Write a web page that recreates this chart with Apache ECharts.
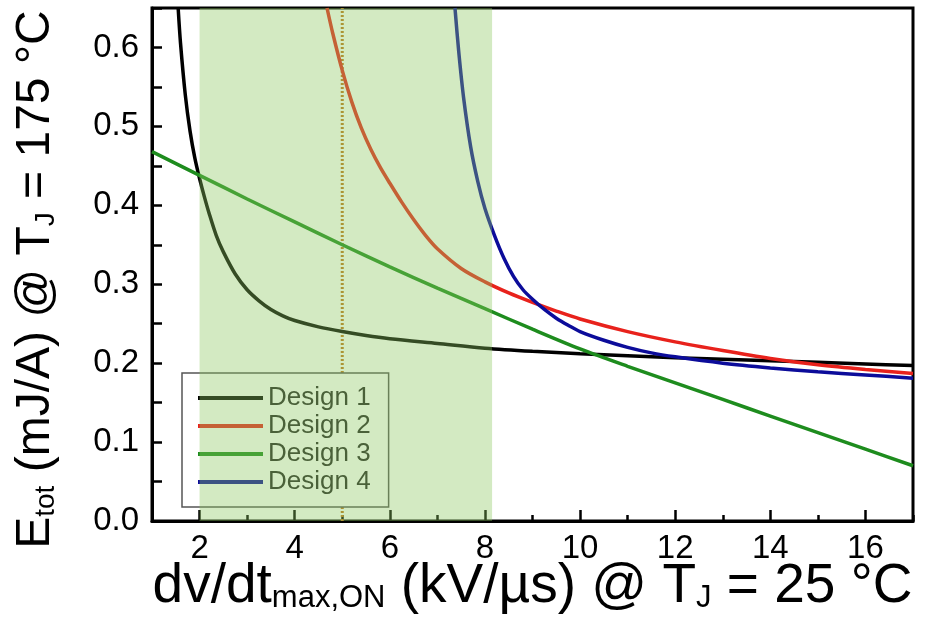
<!DOCTYPE html>
<html>
<head>
<meta charset="utf-8">
<script src="https://cdn.jsdelivr.net/npm/echarts@6/dist/echarts.min.js"></script>
<style>
html,body{margin:0;padding:0;background:#fff;}
#chart{width:925px;height:622px;}
</style>
</head>
<body>
<div id="chart"></div>
<script>
// ---- data ----
const seriesNames = ['Design 1', 'Design 2', 'Design 3', 'Design 4'];

const d1x = [1.55, 1.6, 1.7, 1.8, 1.9, 2.0, 2.1, 2.2, 2.35, 2.5, 2.75, 3.0, 3.25, 3.5, 3.75, 4.0, 4.5, 5, 5.5, 6, 7, 8, 9, 10, 12, 14, 16, 17];
const d1y = [0.65, 0.605, 0.54, 0.494, 0.46, 0.434, 0.411, 0.39, 0.362, 0.341, 0.313, 0.293, 0.279, 0.268, 0.26, 0.254, 0.246, 0.24, 0.235, 0.231, 0.225, 0.219, 0.215, 0.212, 0.207, 0.203, 0.199, 0.197];

const d2x = [4.68, 4.8, 5.0, 5.2, 5.4, 5.6, 5.8, 6.0, 6.25, 6.5, 6.75, 7.0, 7.5, 8.0, 8.5, 9, 9.5, 10, 11, 12, 13, 14, 15, 16, 17];
const d2y = [0.65, 0.618, 0.571, 0.531, 0.498, 0.471, 0.448, 0.428, 0.404, 0.382, 0.362, 0.345, 0.320, 0.303, 0.289, 0.277, 0.266, 0.256, 0.24, 0.227, 0.216, 0.206, 0.198, 0.192, 0.187];

const d3x = [1, 2, 3, 4, 5, 6, 7, 8, 9, 10, 11, 12, 13, 14, 15, 16, 17];
const d3y = [0.468, 0.438, 0.408, 0.379, 0.350, 0.322, 0.295, 0.269, 0.243, 0.218, 0.196, 0.175, 0.154, 0.133, 0.112, 0.091, 0.070];

const d4x = [7.37, 7.45, 7.55, 7.7, 7.85, 8.0, 8.2, 8.4, 8.6, 8.8, 9.0, 9.25, 9.5, 9.75, 10, 10.5, 11, 11.5, 12, 13, 14, 15, 16, 17];
const d4y = [0.65, 0.594, 0.537, 0.474, 0.43, 0.396, 0.362, 0.333, 0.31, 0.293, 0.281, 0.268, 0.257, 0.248, 0.24, 0.229, 0.22, 0.213, 0.208, 0.2, 0.194, 0.189, 0.185, 0.181];

const shadeRange = [2, 8.15];        // shaded dv/dt window
const shadeY = [0, 0.65];
const markerX = 5;                   // dotted vertical marker
const xMajorTicks = [2, 4, 6, 8, 10, 12, 14, 16];

// ---- build ----
const zip = (xs, ys) => xs.map((x, i) => [x, ys[i]]);
const colors = ['#000000', '#e8221c', '#1e8c1e', '#0c0c9a'];
const dataSets = [zip(d1x, d1y), zip(d2x, d2y), zip(d3x, d3y), zip(d4x, d4y)];
const FONT = "'Liberation Sans', Arial, sans-serif";

const chart = echarts.init(document.getElementById('chart'), null, {renderer: 'canvas'});

const lineSeries = seriesNames.map((n, i) => ({
  name: n,
  type: 'line',
  data: dataSets[i],
  showSymbol: false,
  smooth: 0.3,
  color: colors[i],
  lineStyle: {color: colors[i], width: 3.5},
  z: 2
}));

const option = {
  animation: false,
  backgroundColor: '#fff',
  grid: {left: 152, right: 12, top: 8, bottom: 101, show: true, borderColor: '#000', borderWidth: 3,
         backgroundColor: 'transparent', containLabel: false, outerBoundsMode: 'none'},
  legend: {
    data: seriesNames,
    orient: 'vertical',
    left: 182,
    top: 373,
    icon: 'rect',
    itemWidth: 65,
    itemHeight: 4,
    itemGap: 2,
    padding: [12, 18, 12, 16],
    backgroundColor: '#fff',
    borderColor: '#555',
    borderWidth: 1.5,
    borderRadius: 0,
    textStyle: {fontFamily: FONT, fontSize: 26, color: '#222', lineHeight: 26},
    z: 4
  },
  xAxis: [{
    type: 'value', min: 1, max: 17, interval: 1,
    position: 'bottom',
    axisLine: {show: true, lineStyle: {color: '#000', width: 3}},
    axisTick: {show: true, inside: true, length: 6, lineStyle: {color: '#000', width: 2.5}},
    splitLine: {show: false},
    axisLabel: {
      margin: 11, fontFamily: FONT, fontSize: 33, color: '#000',
      formatter: v => (Math.round(v) % 2 === 0 ? String(Math.round(v)) : '')
    },
    name: '{m|dv/dt}{s|max,ON}{m| (kV/µs) @ T}{s|J}{m| = 25 °C}',
    nameLocation: 'middle',
    nameGap: 38,
    nameMoveOverlap: false,
    nameTextStyle: {
      fontFamily: FONT, color: '#000',
      rich: {
        m: {fontFamily: FONT, fontSize: 55, lineHeight: 55, verticalAlign: 'top', color: '#000'},
        s: {fontFamily: FONT, fontSize: 31, lineHeight: 31, verticalAlign: 'bottom', padding: [43, 0, 0, 0], color: '#000'}
      }
    }
  }, {
    type: 'value', min: 1, max: 17, interval: 1,
    position: 'bottom',
    axisLine: {show: false},
    axisTick: {show: true, inside: true, length: 11, customValues: xMajorTicks, lineStyle: {color: '#000', width: 2.5}},
    axisLabel: {show: false},
    splitLine: {show: false}
  }],
  yAxis: {
    type: 'value', min: shadeY[0], max: shadeY[1], interval: 0.05,
    axisLine: {show: true, lineStyle: {color: '#000', width: 3}},
    axisTick: {show: true, inside: true, length: 10, lineStyle: {color: '#000', width: 2.5}},
    splitLine: {show: false},
    axisLabel: {
      margin: 13, fontFamily: FONT, fontSize: 33, color: '#000',
      formatter: v => { const r = Math.round(v * 100); return (r % 10 === 0 && r <= 60) ? (r / 100).toFixed(1) : ''; }
    },
    name: '{m|E}{s|tot}{m| (mJ/A) @ T}{s|J}{m| = 175 °C}',
    nameLocation: 'middle',
    nameRotate: 90,
    nameGap: 92,
    nameMoveOverlap: false,
    nameTextStyle: {
      fontFamily: FONT, color: '#000',
      padding: [0, 30, 0, 0],
      rich: {
        m: {fontFamily: FONT, fontSize: 48, lineHeight: 48, verticalAlign: 'top', color: '#000'},
        s: {fontFamily: FONT, fontSize: 28, lineHeight: 28, verticalAlign: 'bottom', padding: [37, 0, 0, 0], color: '#000'}
      }
    }
  },
  series: [
    ...lineSeries,
    {
      name: 'marker',
      type: 'line',
      data: [[markerX, shadeY[0]], [markerX, shadeY[1]]],
      showSymbol: false,
      lineStyle: {color: '#c0741a', width: 3, type: [2, 2]},
      z: 1
    },
    {
      name: 'window',
      type: 'custom',
      data: [[shadeRange[0], shadeRange[1], shadeY[0], shadeY[1]]],
      encode: {x: [0, 1], y: [2, 3]},
      silent: true,
      z: 10,
      renderItem: (params, api) => {
        const p0 = api.coord([api.value(0), api.value(3)]);
        const p1 = api.coord([api.value(1), api.value(2)]);
        return {
          type: 'rect',
          shape: {x: p0[0], y: p0[1], width: p1[0] - p0[0], height: p1[1] - p0[1]},
          style: {fill: 'rgba(140,200,95,0.38)'}
        };
      }
    }
  ]
};
chart.setOption(option);
</script>
</body>
</html>
